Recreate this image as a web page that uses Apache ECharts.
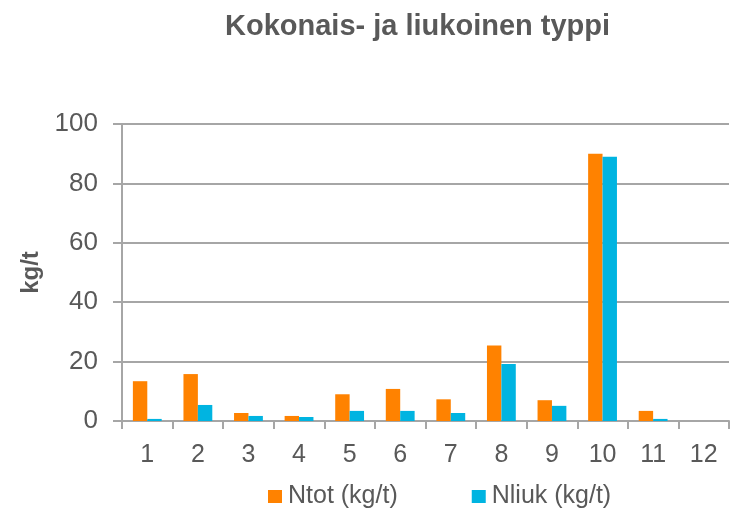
<!DOCTYPE html>
<html>
<head>
<meta charset="utf-8">
<script src="https://cdn.jsdelivr.net/npm/echarts@6/dist/echarts.min.js"></script>
<style>
  html, body { margin: 0; padding: 0; background: #fff; }
  #chart { width: 730px; height: 512px; }
</style>
</head>
<body>
<div id="chart"></div>
<script>
// data
const categories = ['1', '2', '3', '4', '5', '6', '7', '8', '9', '10', '11', '12']
const ntot = [13.4, 15.8, 2.7, 1.7, 9.0, 10.8, 7.3, 25.4, 7.0, 90.0, 3.4, 0]
const nliuk = [0.7, 5.4, 1.7, 1.35, 3.4, 3.4, 2.7, 19.2, 5.1, 89.0, 0.7, 0]
const seriesNames = ['Ntot (kg/t)', 'Nliuk (kg/t)']

const textColor = '#595959'
const lineColor = '#A6A6A6'
const font = '"Liberation Sans", Arial, sans-serif'

const chart = echarts.init(document.getElementById('chart'))

const option = {
  animation: false,
  textStyle: { fontFamily: font },
  title: {
    text: 'Kokonais- ja liukoinen typpi',
    left: 220,
    top: 7,
    textStyle: { color: textColor, fontSize: 29, fontWeight: 'bold', fontFamily: font }
  },
  legend: {
    left: 268,
    top: 484,
    padding: 0,
    itemWidth: 14,
    itemHeight: 13,
    itemGap: 74,
    icon: 'rect',
    textStyle: { color: textColor, fontSize: 25, fontFamily: font, padding: [0, 0, 0, 1] },
    data: seriesNames
  },
  grid: {
    left: 122,
    right: 1,
    top: 124,
    bottom: 91,
    containLabel: false
  },
  xAxis: {
    type: 'category',
    data: categories,
    axisLine: { lineStyle: { color: lineColor, width: 2 } },
    axisTick: { show: true, length: 8, lineStyle: { color: lineColor, width: 2 } },
    axisLabel: { color: textColor, fontSize: 25, margin: 22, fontFamily: font }
  },
  yAxis: {
    type: 'value',
    min: 0,
    max: 100,
    interval: 20,
    name: 'kg/t',
    nameLocation: 'middle',
    nameGap: 76,
    nameRotate: 90,
    nameTextStyle: { color: textColor, fontSize: 24, fontWeight: 'bold', fontFamily: font },
    axisLine: { show: true, lineStyle: { color: lineColor, width: 2 } },
    axisTick: { show: true, length: 9, lineStyle: { color: lineColor, width: 2 } },
    axisLabel: { color: textColor, fontSize: 26, margin: 24, fontFamily: font },
    splitLine: { lineStyle: { color: lineColor, width: 2 } }
  },
  series: [
    {
      name: seriesNames[0],
      type: 'bar',
      data: ntot,
      barGap: '0%',
      barCategoryGap: '43%',
      itemStyle: { color: '#FF8200' }
    },
    {
      name: seriesNames[1],
      type: 'bar',
      data: nliuk,
      itemStyle: { color: '#00B4E1' }
    }
  ]
}

chart.setOption(option)
</script>
</body>
</html>
